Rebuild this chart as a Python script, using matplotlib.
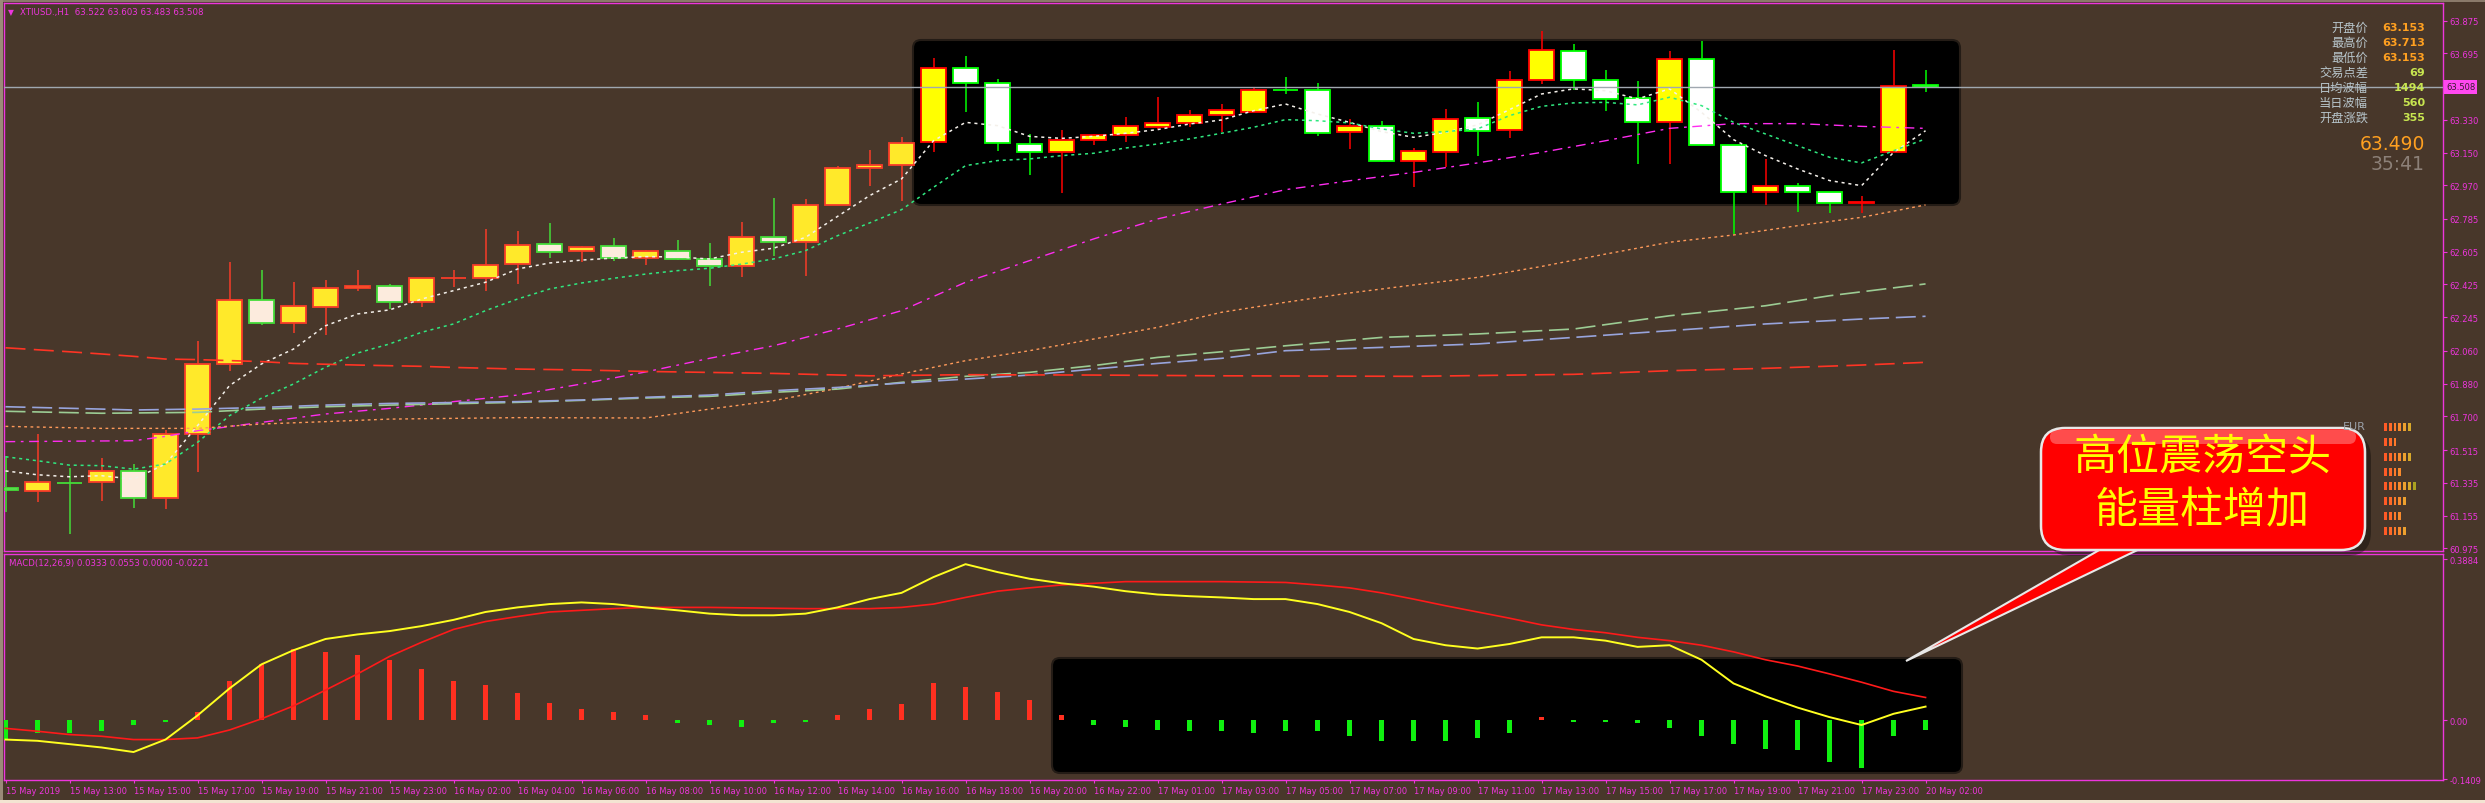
import numpy as np
import matplotlib
matplotlib.use("Agg")
import matplotlib.pyplot as plt
import matplotlib.transforms as mtrans
from matplotlib.patches import FancyBboxPatch, Polygon, Rectangle

W, H = 2485, 804

# ---- price data (XTIUSD H1) ----
open_ = [61.304, 61.291, 61.333, 61.337, 61.401, 61.249, 61.605, 61.986, 62.338, 62.215,
         62.299, 62.404, 62.415, 62.327, 62.461, 62.459, 62.536, 62.646, 62.607, 62.635,
         62.569, 62.607, 62.563, 62.528, 62.684, 62.660, 62.860, 63.063, 63.080, 63.206,
         63.613, 63.531, 63.195, 63.151, 63.217, 63.245, 63.289, 63.311, 63.355, 63.375,
         63.493, 63.492, 63.261, 63.294, 63.102, 63.151, 63.338, 63.272, 63.547, 63.707,
         63.547, 63.448, 63.316, 63.663, 63.190, 62.931, 62.964, 62.931, 62.874, 63.153, 63.522]
high = [61.484, 61.603, 61.416, 61.471, 61.438, 61.627, 62.114, 62.548, 62.504, 62.438,
        62.449, 62.504, 62.426, 62.459, 62.504, 62.730, 62.719, 62.763, 62.638, 62.679,
        62.616, 62.669, 62.653, 62.768, 62.900, 62.895, 63.076, 63.164, 63.236, 63.670,
        63.681, 63.554, 63.252, 63.274, 63.252, 63.346, 63.455, 63.384, 63.417, 63.503,
        63.565, 63.532, 63.335, 63.324, 63.173, 63.390, 63.428, 63.597, 63.816, 63.747,
        63.604, 63.543, 63.708, 63.763, 63.190, 63.115, 62.983, 62.931, 62.911, 63.713, 63.603]
low = [61.172, 61.231, 61.053, 61.236, 61.196, 61.190, 61.396, 61.951, 62.204, 62.160,
       62.149, 62.391, 62.288, 62.303, 62.413, 62.391, 62.429, 62.572, 62.550, 62.556,
       62.534, 62.558, 62.418, 62.468, 62.583, 62.473, 62.860, 62.968, 62.884, 63.155,
       63.375, 63.160, 63.029, 62.930, 63.193, 63.210, 63.278, 63.289, 63.261, 63.371,
       63.470, 63.243, 63.170, 63.096, 62.963, 63.069, 63.133, 63.232, 63.525, 63.492,
       63.380, 63.087, 63.087, 63.193, 62.702, 62.864, 62.825, 62.820, 62.820, 63.153, 63.483]
close = [61.293, 61.337, 61.332, 61.401, 61.249, 61.605, 61.986, 62.338, 62.215, 62.305,
         62.404, 62.415, 62.330, 62.459, 62.462, 62.530, 62.640, 62.602, 62.629, 62.572,
         62.607, 62.563, 62.528, 62.684, 62.660, 62.860, 63.063, 63.080, 63.201, 63.613,
         63.531, 63.201, 63.151, 63.217, 63.245, 63.294, 63.311, 63.355, 63.382, 63.492,
         63.492, 63.256, 63.294, 63.102, 63.157, 63.333, 63.267, 63.551, 63.712, 63.547,
         63.443, 63.316, 63.663, 63.193, 62.931, 62.964, 62.931, 62.871, 62.875, 63.518, 63.508]

time_labels = ['15 May 2019', '15 May 13:00', '15 May 15:00', '15 May 17:00', '15 May 19:00',
               '15 May 21:00', '15 May 23:00', '16 May 02:00', '16 May 04:00', '16 May 06:00',
               '16 May 08:00', '16 May 10:00', '16 May 12:00', '16 May 14:00', '16 May 16:00',
               '16 May 18:00', '16 May 20:00', '16 May 22:00', '17 May 01:00', '17 May 03:00',
               '17 May 05:00', '17 May 07:00', '17 May 09:00', '17 May 11:00', '17 May 13:00',
               '17 May 15:00', '17 May 17:00', '17 May 19:00', '17 May 21:00', '17 May 23:00',
               '20 May 02:00']

# moving averages
ma_white = [61.400, 61.379, 61.368, 61.374, 61.355, 61.438, 61.649, 61.869, 61.988, 62.070,
            62.198, 62.263, 62.285, 62.345, 62.391, 62.437, 62.510, 62.543, 62.559, 62.570,
            62.578, 62.576, 62.565, 62.602, 62.624, 62.684, 62.799, 62.913, 63.005, 63.215,
            63.316, 63.298, 63.239, 63.228, 63.239, 63.256, 63.276, 63.307, 63.329, 63.380,
            63.417, 63.362, 63.316, 63.265, 63.234, 63.261, 63.302, 63.386, 63.472, 63.500,
            63.490, 63.445, 63.500, 63.371, 63.221, 63.133, 63.060, 62.996, 62.968, 63.151, 63.270]
ma_green = [61.478, 61.456, 61.432, 61.429, 61.410, 61.438, 61.557, 61.704, 61.800, 61.878,
            61.970, 62.048, 62.098, 62.162, 62.208, 62.281, 62.345, 62.400, 62.433, 62.459,
            62.482, 62.501, 62.514, 62.537, 62.565, 62.611, 62.693, 62.763, 62.836, 62.959,
            63.078, 63.106, 63.115, 63.133, 63.146, 63.175, 63.197, 63.225, 63.256, 63.289,
            63.331, 63.325, 63.313, 63.280, 63.256, 63.265, 63.280, 63.353, 63.404, 63.423,
            63.426, 63.412, 63.454, 63.408, 63.316, 63.252, 63.188, 63.124, 63.093, 63.160, 63.225]
mag_bars = [0, 4, 5, 6, 8, 10, 12, 14, 16, 18, 20, 22, 24, 26, 28, 30, 32, 34, 36, 38,
            40, 42, 44, 46, 48, 50, 52, 54, 56, 58, 60]
ma_mag = [61.561, 61.566, 61.590, 61.621, 61.667, 61.713, 61.744, 61.781, 61.817, 61.878,
          61.944, 62.019, 62.088, 62.180, 62.281, 62.437, 62.556, 62.675, 62.785, 62.867,
          62.946, 62.995, 63.041, 63.093, 63.151, 63.215, 63.283, 63.309, 63.309, 63.294, 63.283]
org_bars = [0, 3, 6, 8, 10, 12, 16, 20, 22, 24, 26, 28, 30, 32, 34, 36, 38, 40, 42, 44,
            46, 48, 50, 52, 54, 56, 58, 60]
ma_orange = [61.645, 61.634, 61.634, 61.658, 61.671, 61.685, 61.693, 61.691, 61.740, 61.786,
             61.854, 61.933, 62.006, 62.061, 62.125, 62.189, 62.272, 62.327, 62.378, 62.422,
             62.464, 62.524, 62.592, 62.657, 62.697, 62.748, 62.794, 62.862]
lg_bars = [0, 3, 6, 8, 10, 12, 16, 18, 20, 22, 24, 26, 28, 30, 32, 34, 36, 38, 40, 43,
           46, 49, 52, 55, 57, 60]
ma_lgreen = [61.728, 61.717, 61.722, 61.740, 61.753, 61.762, 61.777, 61.788, 61.801, 61.810,
             61.832, 61.850, 61.887, 61.920, 61.942, 61.979, 62.024, 62.055, 62.088, 62.134,
             62.153, 62.180, 62.253, 62.308, 62.363, 62.428]
bl_bars = [0, 3, 4, 6, 8, 10, 12, 16, 18, 20, 22, 24, 26, 28, 30, 32, 34, 36, 38, 40,
           43, 46, 49, 52, 55, 58, 60]
ma_blue = [61.753, 61.740, 61.735, 61.740, 61.749, 61.762, 61.771, 61.781, 61.790, 61.805,
           61.817, 61.841, 61.859, 61.883, 61.905, 61.927, 61.960, 61.991, 62.019, 62.061,
           62.079, 62.098, 62.134, 62.171, 62.208, 62.235, 62.250]
rd_bars = [0, 1, 2, 3, 4, 5, 6, 8, 9, 11, 13, 14, 16, 18, 20, 24, 27, 30, 34, 38,
           44, 49, 52, 55, 58, 60]
ma_red = [62.077, 62.066, 62.055, 62.043, 62.030, 62.015, 62.012, 62.001, 61.991, 61.982,
          61.975, 61.969, 61.960, 61.955, 61.947, 61.936, 61.923, 61.929, 61.927, 61.923,
          61.920, 61.931, 61.951, 61.964, 61.982, 61.997]

# MACD(12,26,9)
macd_main = [-0.046, -0.049, -0.057, -0.065, -0.076, -0.046, 0.012, 0.077, 0.135, 0.169,
             0.196, 0.207, 0.215, 0.227, 0.242, 0.261, 0.272, 0.280, 0.284, 0.280,
             0.272, 0.265, 0.257, 0.253, 0.253, 0.257, 0.272, 0.292, 0.307, 0.345,
             0.376, 0.357, 0.341, 0.330, 0.322, 0.311, 0.303, 0.299, 0.296, 0.292,
             0.292, 0.280, 0.261, 0.234, 0.196, 0.181, 0.173, 0.184, 0.200, 0.200,
             0.192, 0.177, 0.181, 0.146, 0.089, 0.058, 0.031, 0.008, -0.011, 0.016, 0.0333]
macd_signal = [-0.019, -0.026, -0.034, -0.038, -0.046, -0.046, -0.042, -0.023, 0.004, 0.035,
               0.073, 0.112, 0.154, 0.188, 0.219, 0.238, 0.250, 0.261, 0.265, 0.269,
               0.272, 0.272, 0.272, 0.271, 0.270, 0.269, 0.269, 0.269, 0.272, 0.280,
               0.296, 0.311, 0.319, 0.326, 0.330, 0.334, 0.334, 0.334, 0.334, 0.333,
               0.332, 0.326, 0.319, 0.307, 0.292, 0.276, 0.261, 0.246, 0.230, 0.219,
               0.211, 0.200, 0.192, 0.181, 0.165, 0.146, 0.131, 0.112, 0.092, 0.070, 0.0553]
macd_hist = [-0.046, -0.030, -0.030, -0.026, -0.011, -0.004, 0.020, 0.096, 0.135, 0.173,
             0.165, 0.158, 0.146, 0.123, 0.096, 0.085, 0.066, 0.043, 0.027, 0.020,
             0.012, -0.007, -0.011, -0.015, -0.007, -0.003, 0.012, 0.027, 0.039, 0.089,
             0.081, 0.069, 0.050, 0.012, -0.011, -0.015, -0.023, -0.026, -0.026, -0.030,
             -0.026, -0.026, -0.038, -0.050, -0.050, -0.050, -0.042, -0.030, 0.008, -0.003,
             -0.003, -0.007, -0.019, -0.038, -0.057, -0.069, -0.072, -0.099, -0.115, -0.038, -0.0221]

price_ticks = [63.875, 63.695, 63.330, 63.150, 62.970, 62.785, 62.605, 62.425, 62.245,
               62.060, 61.880, 61.700, 61.515, 61.335, 61.155, 60.975]
macd_ticks = [0.3884, 0.0, -0.1409]
macd_tick_labels = ['0.3884', '0.00', '-0.1409']
bid = 63.508

info_names = ['开盘价', '最高价', '最低价', '交易点差', '日均波幅', '当日波幅', '开盘涨跌']
info_values = ['63.153', '63.713', '63.153', '69', '1494', '560', '355']
strength_counts = [6, 3, 6, 4, 7, 5, 4, 5]

# ---- styling ----
BG = '#48372a'
MAG = '#ee35dd'
plt.rcParams['font.family'] = ['DejaVu Sans', 'Noto Sans CJK SC']


def frac(x0, y0, x1, y1):
    return [x0 / W, 1 - y1 / H, (x1 - x0) / W, (y1 - y0) / H]


fig = plt.figure(figsize=(W / 100, H / 100), dpi=100, facecolor=BG)
pix = mtrans.Affine2D().scale(1 / W, -1 / H).translate(0, 1) + fig.transFigure

ax = fig.add_axes(frac(4, 4, 2443, 552))
ax2 = fig.add_axes(frac(4, 555, 2443, 781))
for a in (ax, ax2):
    a.set_facecolor(BG)
    for s in a.spines.values():
        s.set_color(MAG)
        s.set_linewidth(1.0)
    a.set_xlim(-0.047, 76.17)
    a.yaxis.tick_right()
    a.tick_params(axis='y', colors=MAG, labelcolor=MAG, labelsize=6.0, length=3, width=0.8, pad=1.5)

ax.set_ylim(60.960, 63.972)
ax2.set_ylim(-0.1433, 0.4005)

# black highlight panels
ax.add_patch(FancyBboxPatch((913, 41), 1047, 165, boxstyle='round,pad=0,rounding_size=8',
                            transform=pix, fc='#000000', ec='#241c16', lw=1.5, zorder=1))
ax2.add_patch(FancyBboxPatch((1052, 659), 910, 115, boxstyle='round,pad=0,rounding_size=8',
                             transform=pix, fc='#000000', ec='#241c16', lw=1.5, zorder=1))

# ---- candles ----
x = np.arange(len(open_))
o, hi, lo, c = map(np.array, (open_, high, low, close))
up = c > o
inside = x >= 29
body = np.where(up, np.where(inside, '#ffff00', '#ffe92a'), np.where(inside, '#ffffff', '#fcebdd'))
edge = np.where(up, np.where(inside, '#ff0000', '#f83c28'), np.where(inside, '#00ff00', '#44dc38'))
ax.vlines(x, lo, hi, colors=edge, lw=1.1, zorder=3)
ht = np.maximum(np.abs(c - o), 0.0015)
ax.bar(x, ht, bottom=np.minimum(o, c), width=0.76, color=body, edgecolor=edge, lw=1.3, zorder=4)

# ---- moving averages ----
ax.plot(x, ma_white, color='#f4f0ea', lw=1.1, ls=(0, (2, 2.5)), zorder=5)
ax.plot(x, ma_green, color='#30e880', lw=1.1, ls=(0, (2, 2.5)), zorder=5)
ax.plot(mag_bars, ma_mag, color='#ff2cf0', lw=1.0, ls=(0, (7, 4, 2, 4)), zorder=5)
ax.plot(org_bars, ma_orange, color='#ff9a5a', lw=1.0, ls=(0, (2, 2.5)), zorder=5)
ax.plot(lg_bars, ma_lgreen, color='#9ccc94', lw=1.2, ls=(0, (12, 4)), zorder=5)
ax.plot(bl_bars, ma_blue, color='#98a4dc', lw=1.2, ls=(0, (12, 4)), zorder=5)
ax.plot(rd_bars, ma_red, color='#ff3424', lw=1.2, ls=(0, (12, 5)), zorder=5)

ax.axhline(bid, color='#a0a8b0', lw=1.0, zorder=6)
ax.set_yticks(price_ticks)
ax.set_yticklabels([f'{v:.3f}' for v in price_ticks])
ax.set_xticks([])

# ---- MACD ----
hcol = ['#ff3020' if v > 0 else '#10f010' for v in macd_hist]
ax2.bar(x, macd_hist, width=0.15, color=hcol, zorder=3)
ax2.plot(x, macd_signal, color='#ff1a1a', lw=1.2, zorder=4)
ax2.plot(x, macd_main, color='#ffff20', lw=1.4, zorder=5)
ax2.set_yticks(macd_ticks)
ax2.set_yticklabels(macd_tick_labels)
ax2.set_xticks(x[::2])
ax2.set_xticklabels(time_labels, ha='left')
ax2.tick_params(axis='x', colors=MAG, labelcolor=MAG, labelsize=6.0, length=2.5, width=0.8, pad=2)

# ---- overlay: titles, info panel, callout ----
ov = fig.add_axes([0, 0, 1, 1], zorder=10)
ov.set_xlim(0, W)
ov.set_ylim(H, 0)
ov.axis('off')
ov.patch.set_alpha(0)

ov.add_patch(Rectangle((0, 0), W, 3, fc='#8a7a6a', ec='none'))
ov.add_patch(Rectangle((0, 0), 3, H, fc='#9a8a78', ec='none'))
ov.add_patch(Rectangle((0, 801), W, 3, fc='#f3e4d2', ec='none'))

ov.text(8, 13, '▼', color=MAG, fontsize=5.5, va='center')
ov.text(20, 13, 'XTIUSD.,H1  63.522 63.603 63.483 63.508', color=MAG, fontsize=6.2, va='center')
ov.text(9, 564, 'MACD(12,26,9) 0.0333 0.0553 0.0000 -0.0221', color=MAG, fontsize=6.2, va='center')

ov.text(2446, 88, f'{bid:.3f}', color='#3a1a30', fontsize=6.0, va='center', ha='left',
        bbox=dict(fc='#ff48f0', ec='none', pad=1.5))

for i, (nm, val) in enumerate(zip(info_names, info_values)):
    yy = 28 + 15 * i
    ov.text(2368, yy, nm, color='#b8c6cc', fontsize=8.8, ha='right', va='center',
            family=['Noto Sans CJK SC', 'DejaVu Sans'])
    ov.text(2425, yy, val, color='#ffa020' if i < 3 else '#c8e650', fontsize=8,
            fontweight='bold', ha='right', va='center')
ov.text(2425, 144, '63.490', color='#ffa020', fontsize=13.5, ha='right', va='center')
ov.text(2425, 164, '35:41', color='#8c8078', fontsize=13.5, ha='right', va='center')

ov.text(2343, 427, 'EUR', color='#9aa0a8', fontsize=8, va='center')
ax3 = fig.add_axes(frac(2383, 421, 2432, 539), zorder=9)
ax3.set_xlim(-0.2, 10)
ax3.set_ylim(7.5, -0.5)
ax3.axis('off')
seg_cols = ['#ff5a26', '#ff6a28', '#ff7a2a', '#f88a2c', '#eca02e', '#d8a82a', '#aaa020']
for row, n in enumerate(strength_counts):
    ax3.barh([row] * n, 0.6, left=np.arange(n), height=0.55, color=seg_cols[:n])

# callout
ov.add_patch(FancyBboxPatch((2047, 435), 324, 122, boxstyle='round,pad=0,rounding_size=24',
                            fc='#000000', ec='none', alpha=0.35))
ov.add_patch(Polygon([(2108, 546), (2148, 546), (1906, 662)], closed=True,
                     fc='#ff0000', ec='#e8e8e8', lw=1.5))
ov.add_patch(FancyBboxPatch((2041, 429), 324, 122, boxstyle='round,pad=0,rounding_size=24',
                            fc='#ff0000', ec='#e8e8e8', lw=1.8))
ov.add_patch(FancyBboxPatch((2050, 431), 306, 14, boxstyle='round,pad=0,rounding_size=7',
                            fc='#ffffff', ec='none', alpha=0.3))
ov.text(2202, 458, '高位震荡空头', color='#ffff00', fontsize=31, ha='center', va='center',
        family=['Noto Sans CJK SC'])
ov.text(2202, 511, '能量柱增加', color='#ffff00', fontsize=31, ha='center', va='center',
        family=['Noto Sans CJK SC'])

fig.savefig('out.png', dpi=100, facecolor=BG)
